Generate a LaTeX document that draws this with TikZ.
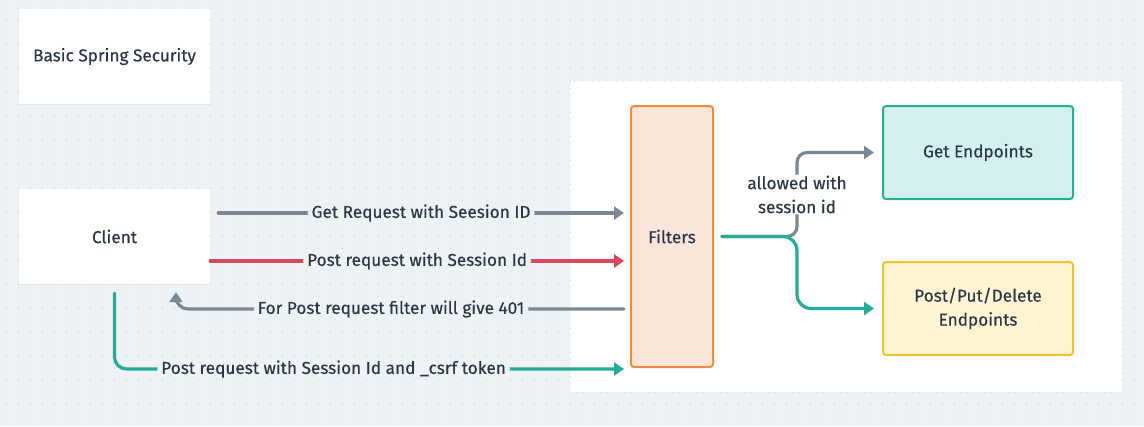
\documentclass[tikz,border=0pt]{standalone}
\usepackage{fontspec}
\setmainfont{Fira Sans}[FakeBold=0.4]
\usetikzlibrary{arrows.meta,calc,shadows}
\definecolor{bg}{HTML}{EFF2F5}
\definecolor{dotc}{HTML}{D3D9E0}
\definecolor{txt}{HTML}{2B3748}
\definecolor{grayc}{HTML}{7A8796}
\definecolor{redc}{HTML}{D9475B}
\definecolor{tealc}{HTML}{22AD98}
\definecolor{filfill}{HTML}{FAE6D9}
\definecolor{fildraw}{HTML}{EF8A3F}
\definecolor{getfill}{HTML}{D3F0EE}
\definecolor{getdraw}{HTML}{23B09B}
\definecolor{postfill}{HTML}{FFF3D2}
\definecolor{postdraw}{HTML}{F6C12B}
\begin{document}
\begin{tikzpicture}[x=1pt,y=-1pt,
  font=\fontsize{17.2}{24}\selectfont, text=txt,
  plainbox/.style={fill=white, minimum width=191pt, minimum height=95pt, inner sep=0pt,
    drop shadow={shadow xshift=0pt, shadow yshift=-1pt, opacity=0.08}},
  cbox/.style={rounded corners=3pt, line width=2pt, align=center, inner sep=0pt, text=txt},
  conn/.style={line width=3.2pt, line cap=round, rounded corners=12pt},
  tip/.style={-{Triangle[length=10pt,width=13pt]}},
  lbl/.style={fill=bg, text=txt, inner xsep=4pt, inner ysep=2pt}
]
\fill[bg] (0,0) rectangle (1144,426);
\useasboundingbox (0,0) rectangle (1144,426);
\foreach \yy in {8,20,...,416}
  \draw[dotc, line width=1.3pt, dash pattern=on 1.3pt off 10.7pt] (6,\yy) -- (1144,\yy);

\node[fill=white, minimum width=552pt, minimum height=311pt, inner sep=0pt,
  draw=dotc, line width=1pt, dash pattern=on 1pt off 5pt] (panel) at (846,236.5) {};

\node[plainbox] (title) at (114.5,56.5) {Basic Spring Security};
\node[plainbox] (client) at (114.5,236.5) {Client};

\node[cbox, fill=filfill, draw=fildraw, minimum width=82pt, minimum height=261pt] (filters) at (672,236.5) {Filters};
\node[cbox, fill=getfill, draw=getdraw, minimum width=190pt, minimum height=93pt] (get) at (978,152.5) {Get Endpoints};
\node[cbox, fill=postfill, draw=postdraw, minimum width=190pt, minimum height=93pt] (post) at (978,308.5) {Post/Put/Delete\\Endpoints};

\path (0,213) coordinate (y1) (0,261) coordinate (y2) (0,309) coordinate (y3) (0,369) coordinate (y4)
      (797,0) coordinate (jx);
\coordinate (back) at ($(client.south)+(61.5,8)$);

\draw[conn, grayc, tip] ($(client.east|-y1)+(8,0)$) -- node[lbl]{Get Request with Seesion ID} ($(filters.west|-y1)+(-6,0)$);
\draw[conn, redc, tip] (client.east|-y2) -- node[lbl]{Post request with Session Id} ($(filters.west|-y2)+(-6,0)$);
\draw[conn, grayc, tip] ($(filters.west|-y3)+(-6,0)$) -- node[lbl, pos=0.52]{For Post request filter will give 401} (back|-y3) -- (back);
\draw[conn, tealc, tip] ($(client.south)+(0,9)$) -- (client.south|-y4) -- node[lbl, pos=0.43]{Post request with Session Id and \_csrf token} ($(filters.west|-y4)+(-6,0)$);

\draw[conn, grayc, tip, rounded corners=10pt] ($(filters.east)+(8,0)$) -- (jx|-filters.east) -- node[fill=white, text=txt, align=center, inner xsep=3pt, inner ysep=1pt]{allowed with\\session id} (jx|-get.west) -- ($(get.west)+(-8,0)$);
\draw[conn, tealc, tip, rounded corners=14pt] ($(filters.east)+(8,0)$) -- (jx|-filters.east) -- (jx|-post.west) -- ($(post.west)+(-8,0)$);
\end{tikzpicture}
\end{document}
